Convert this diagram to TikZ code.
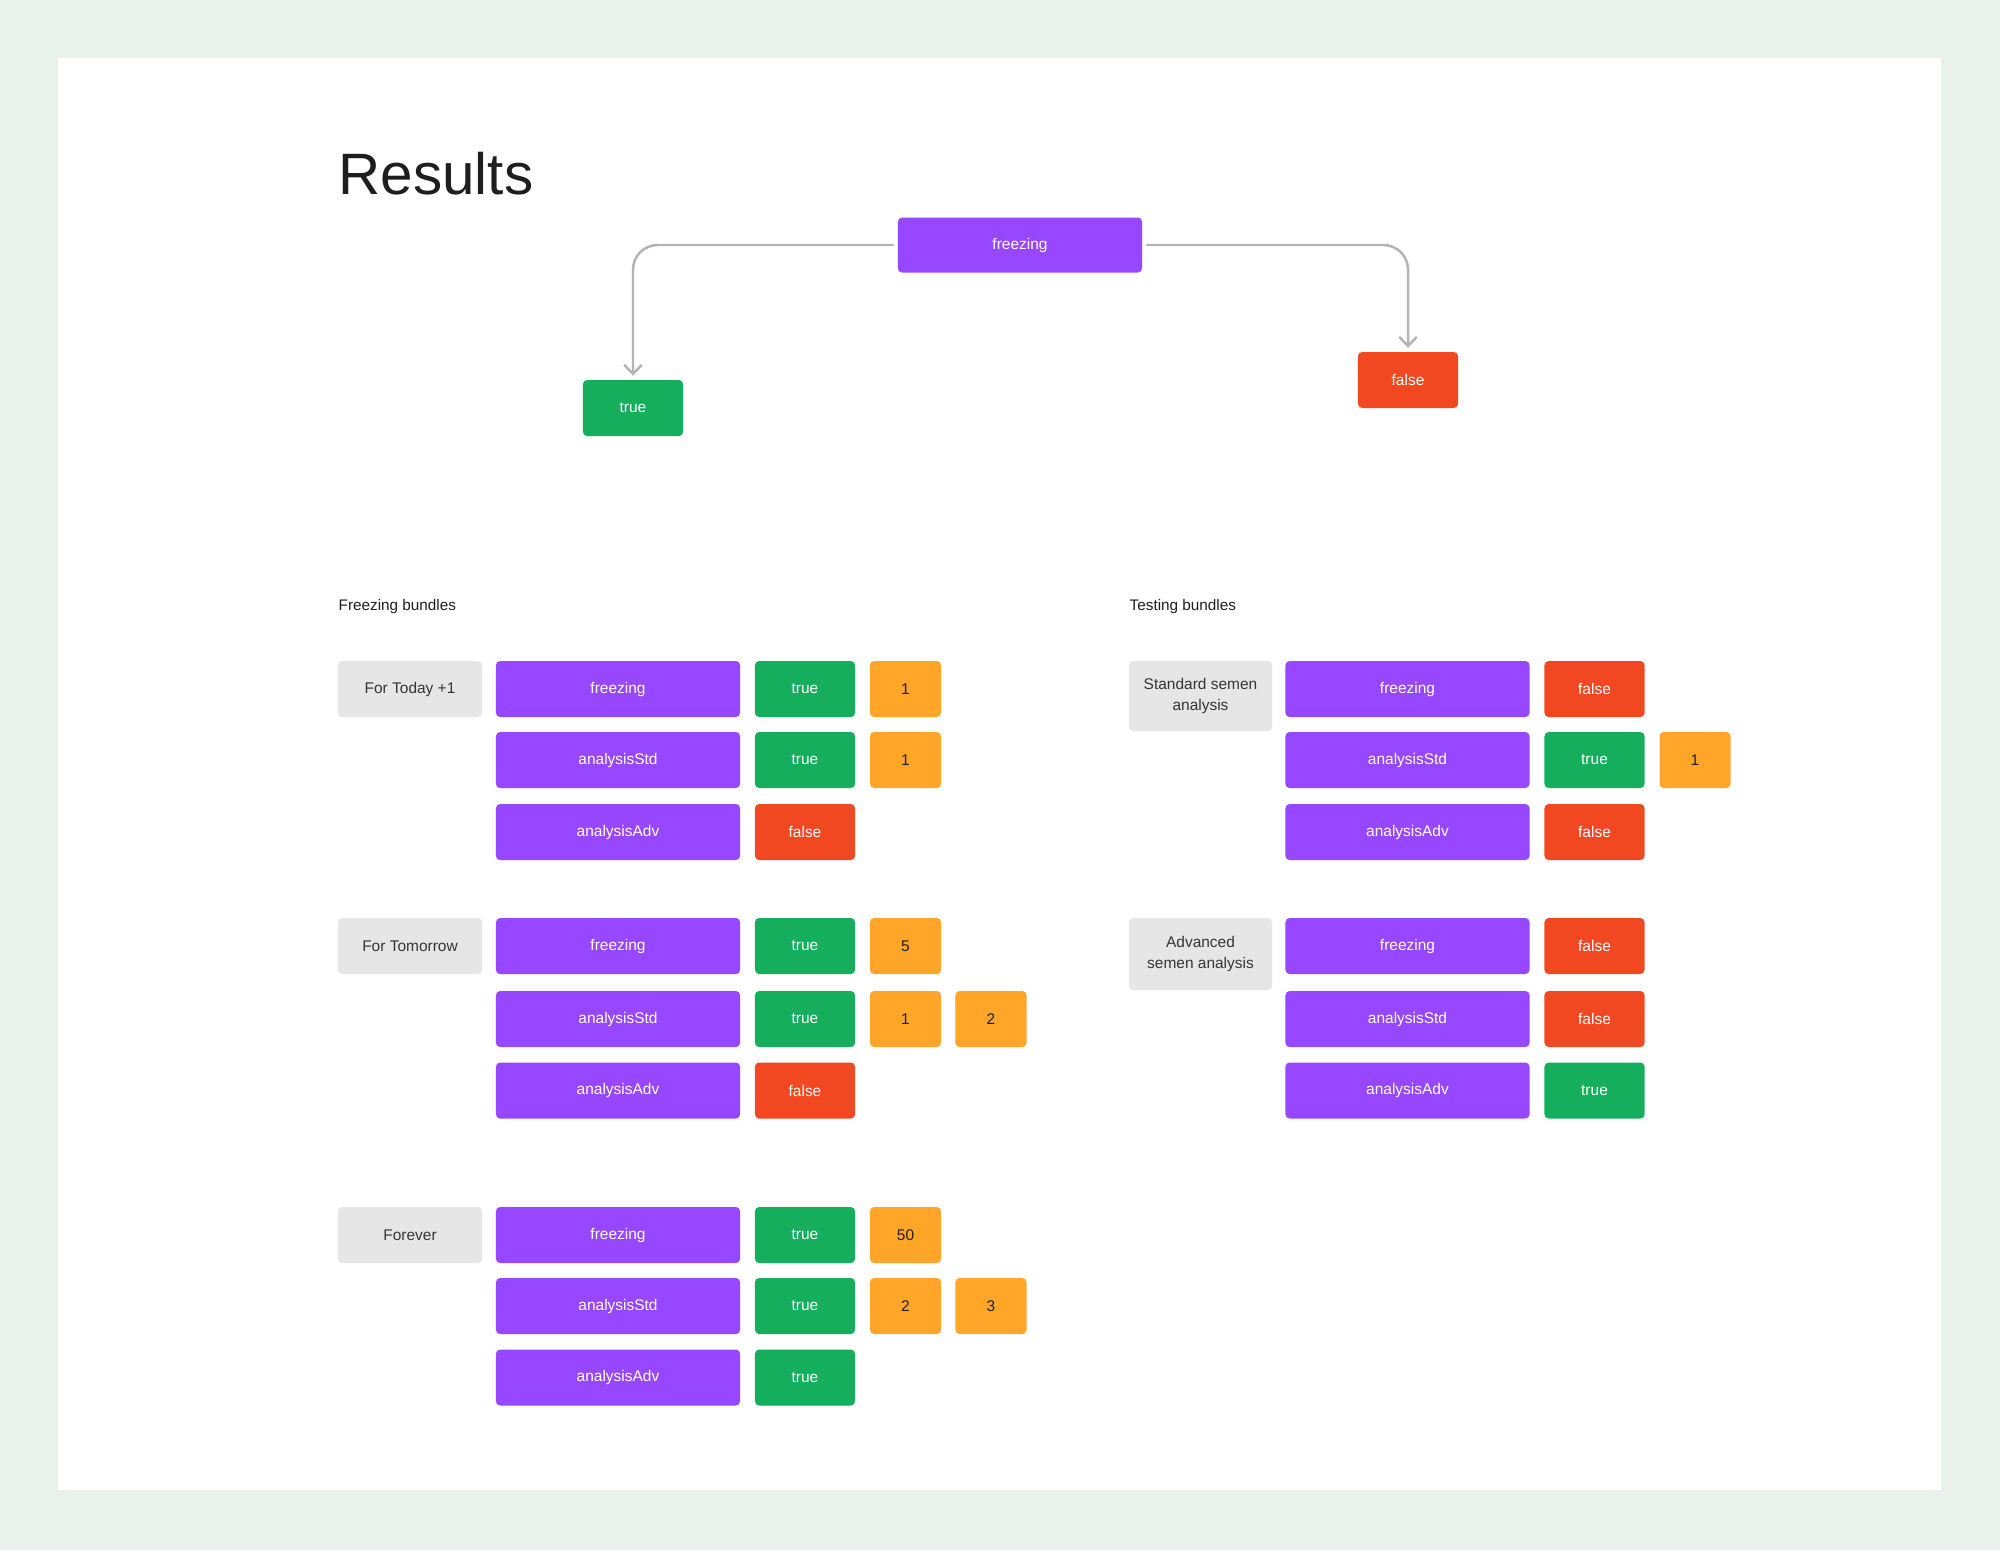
\documentclass[tikz,border=0pt]{standalone}
\usepackage{fontspec}
\setmainfont{Liberation Sans}
\usetikzlibrary{arrows.meta}

\definecolor{bgmint}{HTML}{E8F1EC}
\definecolor{fpurple}{HTML}{9747FF}
\definecolor{cell-true}{HTML}{14AE5C}
\definecolor{cell-false}{HTML}{F24822}
\definecolor{forange}{HTML}{FFA629}
\definecolor{fgray}{HTML}{E6E6E6}
\definecolor{flink}{HTML}{B3B3B3}
\definecolor{ink}{HTML}{1E1E1E}

\tikzset{
  cell/.style={rounded corners=1.2pt, inner sep=0pt, minimum height=0.56cm,
    font=\fontsize{4.4}{6.2}\selectfont, text=white},
  keycell/.style={cell, fill=fpurple, minimum width=2.44cm},
  boolcell/.style={cell, minimum width=1cm},
  numcell/.style={cell, fill=forange, minimum width=0.71cm, text=ink},
  bundle/.style={cell, fill=fgray, minimum width=1.44cm, text=ink!90, align=center},
  heading/.style={anchor=west, font=\fontsize{4.35}{6}\selectfont, text=ink},
  link/.style={draw=flink, line width=0.7pt, rounded corners=7pt,
    shorten <=1pt, shorten >=1pt, -{Straight Barb[length=2.6pt,width=5pt]}},
}

\begin{document}
\begin{tikzpicture}[x=0.01cm, y=-0.01cm]

% page
\fill[bgmint] (0,0) rectangle (2000,1550);
\fill[white] (58,58) rectangle (1941,1490);

\node[anchor=base west, inner sep=0pt, font=\fontsize{16.6}{20}\selectfont, text=ink] (title) at (338,194) {Results};

% decision
\node[keycell, minimum height=0.55cm] (top) at (1020,245) {freezing};
\node[boolcell, fill=cell-true] (topyes) at (633,408) {true};
\node[boolcell, fill=cell-false] (topno) at (1408,380) {false};
\draw[link] (top.west) -| (topyes.north);
\draw[link] (top.east) -| (topno.north);

% bundles
\node[heading, inner sep=0pt] (freezehead) at (338,607) {Freezing bundles};
\node[heading, inner sep=0pt] (testhead) at (1129,607) {Testing bundles};

\foreach \gid/\gx/\gy/\glabel in {today/410/689/For Today +1, tomorrow/410/946/For Tomorrow, forever/410/1235/Forever}
  \node[bundle] (\gid) at (\gx,\gy) {\glabel};
\node[bundle, minimum width=1.43cm, minimum height=0.70cm] (std) at (1200.5,696) {Standard semen\\analysis};
\node[bundle, minimum width=1.43cm, minimum height=0.72cm] (adv) at (1200.5,954) {Advanced\\semen analysis};

\foreach \rid/\ox/\y/\key/\bool in {
  today1/0/689/freezing/true, today2/0/760/analysisStd/true, today3/0/832/analysisAdv/false,
  tomorrow1/0/946/freezing/true, tomorrow2/0/1019/analysisStd/true, tomorrow3/0/1090.5/analysisAdv/false,
  forever1/0/1235/freezing/true, forever2/0/1306/analysisStd/true, forever3/0/1377.5/analysisAdv/true,
  std1/789.5/689/freezing/false, std2/789.5/760/analysisStd/true, std3/789.5/832/analysisAdv/false,
  adv1/789.5/946/freezing/false, adv2/789.5/1019/analysisStd/false, adv3/789.5/1090.5/analysisAdv/true}
{
  \node[keycell] (\rid) at (618+\ox,\y) {\key};
  \node[boolcell, fill=cell-\bool] (\rid-val) at (805+\ox,\y) {\bool};
}

% counts
\foreach \nid/\x/\y/\num in {
  today1-a/905.5/689/1, today2-a/905.5/760/1,
  tomorrow1-a/905.5/946/5, tomorrow2-a/905.5/1019/1, tomorrow2-b/991/1019/2,
  forever1-a/905.5/1235/50, forever2-a/905.5/1306/2, forever2-b/991/1306/3,
  std2-a/1695/760/1}
  \node[numcell] (\nid) at (\x,\y) {\num};

\end{tikzpicture}
\end{document}
